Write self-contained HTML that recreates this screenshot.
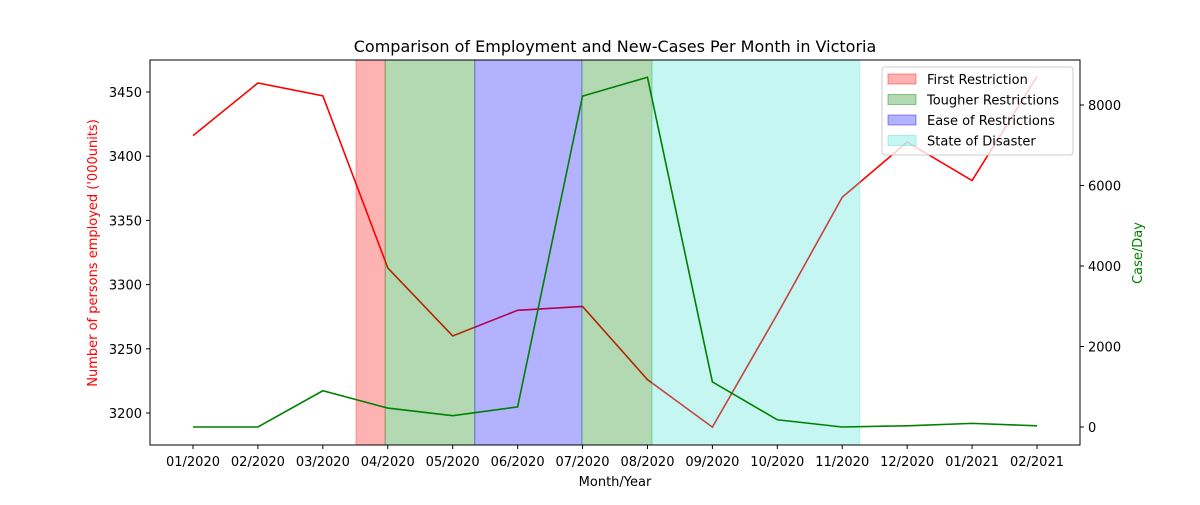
<!DOCTYPE html>
<html><head><meta charset="utf-8">
<style>
body{margin:0;background:#fff;}
svg text{font-family:"DejaVu Sans","Liberation Sans",sans-serif;}
</style></head>
<body>
<svg id="chart" width="1200" height="500" xmlns="http://www.w3.org/2000/svg">
<rect width="1200" height="500" fill="#fff"/>
<text x="615" y="52" font-size="16" text-anchor="middle">Comparison of Employment and New-Cases Per Month in Victoria</text>
<g id="marks"></g>
<rect x="150" y="60" width="930" height="385" fill="none" stroke="#000" stroke-width="1"/>
<g id="axes"></g>
<text x="615" y="486" font-size="13" text-anchor="middle">Month/Year</text>
<text transform="translate(97,253) rotate(-90)" font-size="13" fill="red" text-anchor="middle">Number of persons employed ('000units)</text>
<text transform="translate(1142,253) rotate(-90)" font-size="13" fill="green" text-anchor="middle">Case/Day</text>
<g id="legend"></g>
</svg>
<script>
const months=["01/2020","02/2020","03/2020","04/2020","05/2020","06/2020","07/2020","08/2020","09/2020","10/2020","11/2020","12/2020","01/2021","02/2021"];
const employed=[3416,3457,3447,3313,3260,3280,3283,3226,3189,3277,3368,3411,3381,3462];
const cases=[0,0,900,470,280,500,8220,8690,1120,180,0,30,90,30];
const leftTicks=[3200,3250,3300,3350,3400,3450];
const rightTicks=[0,2000,4000,6000,8000];
const spanNames=["First Restriction","Tougher Restrictions","Ease of Restrictions","Tougher Restrictions","State of Disaster"];
const spanStart=[2.51,2.96,4.34,5.99,7.07];
const spanEnd=[2.96,4.34,5.99,7.07,10.27];
const spanColors=["rgb(255,0,0)","rgb(0,128,0)","rgb(0,0,255)","rgb(0,128,0)","rgb(64,224,208)"];

const NS="http://www.w3.org/2000/svg";
const X=i=>193+i*(1037-193)/13;
const YL=v=>92+(3450-v)*(413-92)/250;
const YR=v=>427-v*(427-105)/8000;
function mk(tag,attrs,parent){const e=document.createElementNS(NS,tag);for(const k in attrs)e.setAttribute(k,attrs[k]);parent.appendChild(e);return e;}
const marks=document.getElementById('marks'),axes=document.getElementById('axes'),leg=document.getElementById('legend');

let p=mk('polyline',{points:employed.map((v,i)=>X(i)+','+YL(v)).join(' '),fill:'none',stroke:'red','stroke-width':1.6},marks);


spanStart.forEach((s,i)=>{
  const r=mk('rect',{x:X(s),y:60,width:X(spanEnd[i])-X(s),height:385,fill:spanColors[i],'fill-opacity':0.3,stroke:spanColors[i],'stroke-opacity':0.3,'stroke-width':1},marks);
  
  
});
let g=mk('polyline',{points:cases.map((v,i)=>X(i)+','+YR(v)).join(' '),fill:'none',stroke:'green','stroke-width':1.6},marks);



months.forEach((m,i)=>{
  mk('line',{x1:X(i),x2:X(i),y1:445,y2:449,stroke:'#000'},axes);
  const t=mk('text',{x:X(i),y:466,'font-size':13,'text-anchor':'middle'},axes);t.textContent=m;
  
  
});
leftTicks.forEach(v=>{
  mk('line',{x1:146,x2:150,y1:YL(v),y2:YL(v),stroke:'#000'},axes);
  const t=mk('text',{x:142,y:YL(v)+5,'font-size':13,'text-anchor':'end'},axes);t.textContent=v;
  
  
});
rightTicks.forEach(v=>{
  mk('line',{x1:1080,x2:1084,y1:YR(v),y2:YR(v),stroke:'#000'},axes);
  const t=mk('text',{x:1088,y:YR(v)+5,'font-size':13},axes);t.textContent=v;
  
  
});
mk('rect',{x:882,y:67,width:191,height:88,rx:3,fill:'#fff','fill-opacity':0.8,stroke:'#ccc'},leg);
[0,1,2,4].forEach((si,k)=>{
  const y=79+k*20.5;
  const r=mk('rect',{x:888,y:y-5,width:28,height:10,fill:spanColors[si],'fill-opacity':0.3,stroke:spanColors[si],'stroke-opacity':0.4},leg);
  
  
  const t=mk('text',{x:927,y:y+5,'font-size':13},leg);t.textContent=spanNames[si];
  
  
});
</script>
</body></html>
